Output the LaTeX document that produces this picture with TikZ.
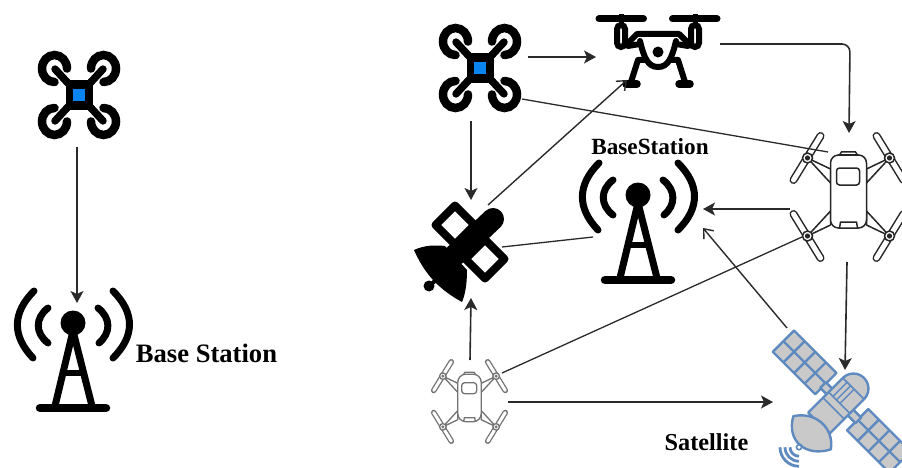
\documentclass[tikz,border=0pt]{standalone}
\usepackage{fontspec}
\setmainfont{Liberation Serif}
\usetikzlibrary{arrows.meta}
\definecolor{linkgray}{HTML}{2A2A2A}
\definecolor{satblue}{HTML}{5F8AC0}
\definecolor{satgray}{HTML}{C9C9C9}
\definecolor{hubblue}{HTML}{0A84F0}
\tikzset{
    link/.style={linkgray,line width=1.6pt,-{Stealth[length=12pt,width=13pt,inset=3pt]}},
    openlink/.style={linkgray,line width=1.4pt,-{Straight Barb[length=8pt,width=13pt]}},
    plainlink/.style={linkgray,line width=1.3pt},
    stationlabel/.style={font=\bfseries,inner sep=0pt},
    satpart/.style={draw=satblue,fill=satgray,line width=2.4pt,line join=round},
    pics/quadcopter/.style={code={
        \foreach \r in {0,90,180,270} {
            \begin{scope}[rotate=\r]
                \draw[line width=8.5pt,line cap=round] (24.5,12) arc (-90:180:12.5);
                \draw[line width=7.5pt,line cap=round] (9,9) -- (24,24);
            \end{scope}
        }
        \fill (-13.5,-13.5) rectangle (13.5,13.5);
        \fill[hubblue] (-6,-6) rectangle (6,6);
    }},
    pics/tower/.style={code={
        \fill (0,0) circle (12.5);
        \draw[line width=7pt,line cap=round,line join=round] (-18,-83) -- (0,-8) -- (19,-83);
        \draw[line width=6.5pt] (-10,-50) -- (10,-50);
        \draw[line width=8.5pt,line cap=round] (-33,-85) -- (33,-85);
        \draw[line width=7pt,line cap=round] (-25,15) .. controls (-38,5) and (-38,-10) .. (-25,-20);
        \draw[line width=7pt,line cap=round] (25,15) .. controls (38,5) and (38,-10) .. (26,-20);
        \draw[line width=7pt,line cap=round] (-39,32) .. controls (-61,10) and (-61,-13) .. (-40,-35);
        \draw[line width=7pt,line cap=round] (40,32) .. controls (62,10) and (62,-13) .. (40,-35);
    }},
    pics/liftdrone/.style={code={
        \foreach \s in {-1,1} {
            \begin{scope}[xscale=\s]
                \draw[line width=7pt,line cap=round] (14.5,33) -- (59,33);
                \draw[line width=5pt] (37,38) -- (37,26);
                \draw[line width=6pt,rounded corners=4pt] (33,27) rectangle (41,5);
                \draw[line width=6pt,line cap=round,line join=round] (0,18) -- (21,18) -- (30,9);
                \draw[line width=6pt,line cap=round] (30,6) -- (18,8);
                \draw[line width=6pt,line cap=round] (18,11) .. controls (14,-6) and (10,-15) .. (0,-15);
                \draw[line width=6pt,line cap=round,line join=round] (13,-8) -- (20,-8) -- (27,-30);
                \draw[line width=7.5pt,line cap=round] (21,-32) -- (32,-32);
            \end{scope}
        }
        \fill (0,0) circle (5.5);
    }},
    pics/blacksat/.style={code={
        \draw[line width=8pt,fill=white,line join=round] (-10,44.5) -- (9.5,25) -- (-10,5.5) -- (-29.5,25) -- cycle;
        \draw[line width=8pt,fill=white,line join=round] (20,10.5) -- (39.5,-9) -- (20,-28.5) -- (0.5,-9) -- cycle;
        \draw[line width=22pt,line cap=round] (28,31) -- (-10,-5);
        \fill (-51,0) .. controls (-40,5) and (-30,5) .. (-20,4) -- (2,-20)
            .. controls (2,-35) and (0,-45) .. (-3,-52)
            .. controls (-25,-40) and (-40,-25) .. cycle;
        \fill (-36,-36) circle (5.5);
        \draw[line width=4pt] (-36,-36) -- (-23,-25);
    }},
    pics/bluesat/.style={code={
        \begin{scope}[rotate=-45]
            \foreach \px/\py in {-83/-12,25/-15} {
                \begin{scope}[shift={(\px,\py)}]
                    \draw[satpart] (0,0) rectangle (60,30);
                    \draw[draw=satblue,line width=2.4pt] (0,15) -- (60,15);
                    \foreach \i in {15,30,45} {
                        \draw[draw=satblue,line width=2.4pt] (\i,0) -- (\i,30);
                    }
                \end{scope}
            }
            \draw[satpart] (-24,-4) rectangle (-13,4);
            \draw[satpart] (13,-4) rectangle (26,4);
            \draw[satpart] (-15,-30) -- (-15,19) arc (180:0:15) -- (15,-30) -- cycle;
            \draw[draw=satblue,line width=1.6pt] (-15,-1) -- (15,-1) (-15,19) -- (15,19) (-15,-9) -- (15,-9);
            \draw[draw=satblue,line width=1.4pt] (-9,-1) -- (-9,19) (-4,-1) -- (-4,19) (1,-1) -- (1,19);
            \draw[satpart] (-23,-43) .. controls (-10,-23) and (15,-23) .. (27,-40)
                .. controls (15,-63) and (-10,-66) .. cycle;
            \draw[draw=satblue,line width=2.2pt] (3,-57) -- (3,-61);
            \draw[draw=satblue,fill=white,line width=1.6pt] (3,-61) circle (2.5);
            \foreach \w in {9,14,19} {
                \draw[draw=satblue,line width=2.8pt] (3,-61) ++(225:\w) arc (225:315:\w);
            }
        \end{scope}
    }},
    pics/topdrone/.style n args={3}{code={
        \foreach \sx in {-1,1} {
            \foreach \sy in {-1,1} {
                \begin{scope}[xscale=\sx,yscale=\sy]
                    \draw[#1,line width=#2,fill=white,line join=round] (41,39) -- (18,28) -- (18,14) -- cycle;
                    \draw[#1,line width=#2,double=white,double distance=#3,line cap=round] (28,61) -- (55,17);
                    \draw[#1,line width=#2,fill=white] (41,39) circle (5);
                    \fill[#1] (41,39) circle (2.6);
                \end{scope}
            }
        }
        \draw[#1,line width=#2,fill=white,rounded corners=8pt] (-18,-31) rectangle (18,42);
        \draw[#1,line width=#2] (-9,42) -- (-7,45) -- (7,45) -- (9,42);
        \draw[#1,line width=#2] (-9,-31) -- (-8,-25) -- (8,-25) -- (9,-31);
        \draw[#1,line width=#2,rounded corners=3pt] (-12,12) rectangle (11,29);
    }},
}

\begin{document}
\begin{tikzpicture}[x=1pt,y=1pt]
    \useasboundingbox (0,0) rectangle (902,-468);
    \clip (0,0) rectangle (902,-468);

    % left: one drone, one tower
    \pic[yscale=1.08] at (79,-95) {quadcopter};
    \pic at (73,-323) {tower};
    \node[stationlabel,font=\bfseries\fontsize{26.6}{27}\selectfont] (leftLabel) at (206.5,-353) {Base Station};
    \coordinate (leftQuadOut) at (77,-147);
    \coordinate (leftTowerIn) at (77,-303);
    \draw[link] (leftQuadOut) -- (leftTowerIn);

    % right: icons
    \pic[yscale=1.08] at (480,-68) {quadcopter};
    \pic at (658,-52) {liftdrone};
    \pic at (638,-195) {tower};
    \pic at (465,-250) {blacksat};
    \pic at (848.5,-197) {topdrone={black!85}{1.5pt}{5pt}};
    \pic[scale=.65] at (469.5,-401.5) {topdrone={black!55}{1.3pt}{3pt}};
    \pic at (840,-402) {bluesat};
    \node[stationlabel,font=\bfseries\fontsize{23.2}{24}\selectfont] (rightLabel) at (650,-147) {BaseStation};
    \node[stationlabel,font=\bfseries\fontsize{24.3}{25}\selectfont] (satLabel) at (706.5,-442) {Satellite};

    % connector ends
    \coordinate (quadEast) at (528,-57);
    \coordinate (liftWest) at (596,-57);
    \coordinate (quadSouth) at (471,-121);
    \coordinate (blackNorth) at (471,-200);
    \coordinate (quadCorner) at (522,-99);
    \coordinate (topHubA) at (828,-152);
    \coordinate (blackCorner) at (488,-205);
    \coordinate (liftFoot) at (627,-80);
    \coordinate (towerWest) at (593,-237);
    \coordinate (blackEast) at (502,-247);
    \coordinate (liftEast) at (720,-44);
    \coordinate (liftBend) at (850,-44);
    \coordinate (topNorth) at (849,-133);
    \coordinate (topWest) at (790,-209);
    \coordinate (towerEast) at (703,-209);
    \coordinate (topSouth) at (847,-262);
    \coordinate (blueNorth) at (845,-370);
    \coordinate (blueCorner) at (787,-328);
    \coordinate (towerSouth) at (703,-228);
    \coordinate (greyHub) at (502,-373);
    \coordinate (topHubB) at (802,-237);
    \coordinate (greyNorth) at (470,-360);
    \coordinate (blackSouth) at (471,-298);
    \coordinate (greyEast) at (508,-402);
    \coordinate (blueWest) at (773,-402);

    \draw[link] (quadEast) -- (liftWest);
    \draw[link] (quadSouth) -- (blackNorth);
    \draw[plainlink] (quadCorner) -- (topHubA);
    \draw[openlink] (blackCorner) -- (liftFoot);
    \draw[plainlink] (towerWest) -- (blackEast);
    \draw[link,rounded corners=8pt] (liftEast) -- (liftBend) -- (topNorth);
    \draw[link] (topWest) -- (towerEast);
    \draw[link] (topSouth) -- (blueNorth);
    \draw[openlink] (blueCorner) -- (towerSouth);
    \draw[plainlink] (greyHub) -- (topHubB);
    \draw[link] (greyNorth) -- (blackSouth);
    \draw[link] (greyEast) -- (blueWest);
\end{tikzpicture}
\end{document}
